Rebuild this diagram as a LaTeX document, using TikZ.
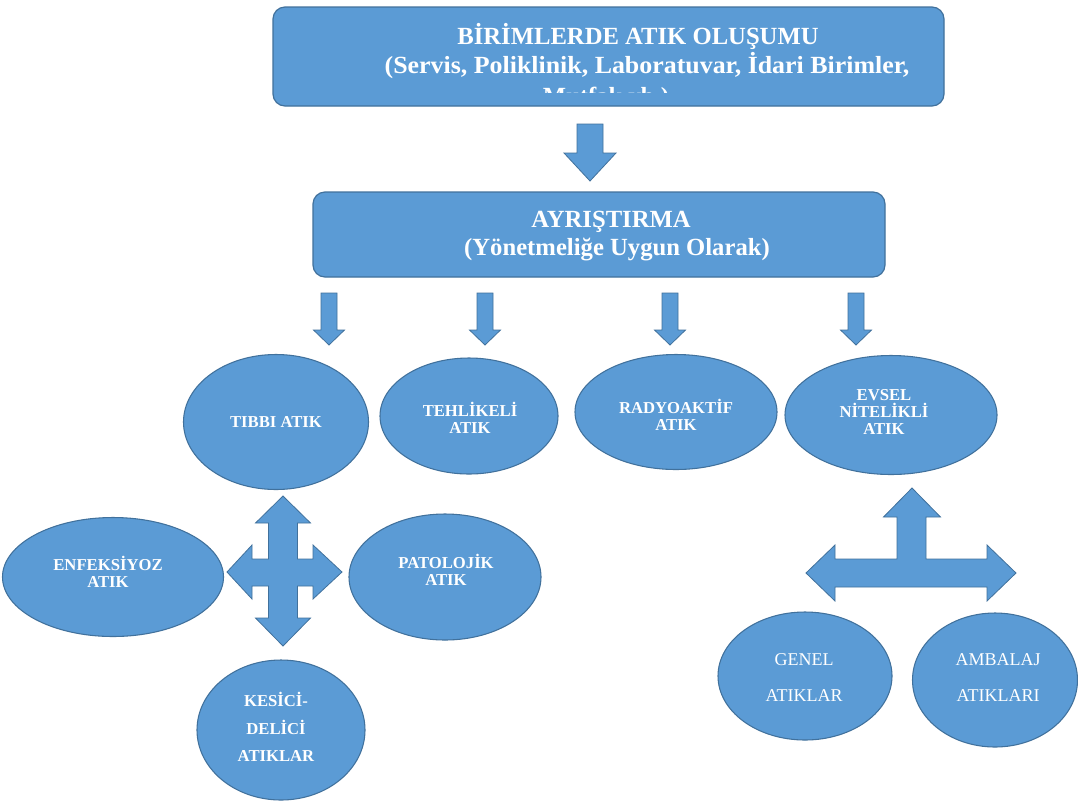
\documentclass[tikz,border=0pt]{standalone}
\usepackage{fontspec}
\usepackage{graphicx}
\setmainfont{Liberation Serif}
\usetikzlibrary{shapes.geometric}
\definecolor{fillb}{HTML}{5B9BD5}
\definecolor{edgeb}{HTML}{41719C}
\begin{document}
\begin{tikzpicture}[x=0.75pt,y=-0.75pt,
  box/.style 2 args={draw=edgeb, fill=fillb, line width=0.9pt, rounded corners=9pt,
     minimum width=#1*0.75pt, minimum height=#2*0.75pt, inner sep=0pt},
  blob/.style 2 args={ellipse, draw=edgeb, fill=fillb, line width=0.8pt, inner sep=0pt,
     minimum width=#1*0.75pt, minimum height=#2*0.75pt},
  barrow/.style={fill=fillb, draw=edgeb, line width=0.6pt, line join=miter},
  btxt/.style={text=white, font=\fontsize{18.5}{21}\selectfont\bfseries, inner sep=0pt, anchor=base},
  etxt/.style={text=white, font=\fontsize{12.5}{13}\selectfont\bfseries, align=center, inner sep=0pt},
  rtxt/.style={text=white, font=\fontsize{13.5}{27}\selectfont, align=center, inner sep=0pt}]
\useasboundingbox (0,0) rectangle (1078,801);
\fill[white] (0,0) rectangle (1078,801);

% top box
\node[box={671}{99}] (top) at (608.5,56.5) {};
\node[btxt] (top1) at (638,44) {BİRİMLERDE ATIK OLUŞUMU};
\node[btxt] (top2) at (647,73) {\scalebox{1.05}[1]{(Servis, Poliklinik, Laboratuvar, İdari Birimler,}};
\begin{scope}
  \clip (274,8) rectangle (943,92);
  \node[btxt] (top3) at (606,104) {Mutfak vb.)};
\end{scope}

% main down arrow
\fill[barrow] (577,124) -- (603,124) -- (603,153) -- (616,153) -- (590,181)
  -- (564,153) -- (577,153) -- cycle;

% second box
\node[box={572}{85}] (ayr) at (599,234.5) {};
\node[btxt] (ayr1) at (611,227) {AYRIŞTIRMA};
\node[btxt] (ayr2) at (617,255) {(Yönetmeliğe Uygun Olarak)};

% small down arrows
\foreach \cx in {329,485,670,856}{
  \fill[barrow] (\cx-8,293) -- (\cx+8,293) -- (\cx+8,330) -- (\cx+15.5,330) -- (\cx,345)
    -- (\cx-15.5,330) -- (\cx-8,330) -- cycle;
}

% main categories
\node[blob={185}{135}] (tibbi) at (276,422) {};
\node[etxt] (tibbiT) at (276,422) {TIBBI ATIK};
\node[blob={178}{116}] (tehl) at (469,416) {};
\node[etxt] (tehlT) at (470,418) {TEHLİKELİ\\ATIK};
\node[blob={202}{115}] (rad) at (676,412) {};
\node[etxt] (radT) at (676,415) {RADYOAKTİF\\ATIK};
\node[blob={212}{119}] (evsel) at (891,415) {};
\node[etxt] (evselT) at (884,412) {EVSEL\\NİTELİKLİ\\ATIK};

% four-way arrow
\fill[barrow] (283,496) -- (310.5,523) -- (297.5,523) -- (297.5,559) -- (313,559)
  -- (313,545) -- (342,572) -- (313,599) -- (313,586) -- (297.5,586) -- (297.5,618)
  -- (310.5,618) -- (283,646) -- (255.5,618) -- (268.5,618) -- (268.5,586) -- (252,586)
  -- (252,599) -- (227,572) -- (252,545) -- (252,559) -- (268.5,559) -- (268.5,523)
  -- (255.5,523) -- cycle;

% tibbi sub-categories
\node[blob={221}{119}] (enf) at (113,577) {};
\node[etxt] (enfT) at (108,572) {ENFEKSİYOZ\\ATIK};
\node[blob={192}{126}] (pat) at (445,577) {};
\node[etxt] (patT) at (446,570) {PATOLOJİK\\ATIK};
\node[blob={168}{140}] (kes) at (281,730) {};
\node[etxt, font=\fontsize{12.5}{20.5}\selectfont\bfseries] (kesT) at (276,727) {KESİCİ-\\DELİCİ\\ATIKLAR};

% T arrow
\fill[barrow] (912,488) -- (940.5,517) -- (926,517) -- (926,559) -- (987,559) -- (987,545)
  -- (1016,573) -- (987,601) -- (987,587) -- (835,587) -- (835,601) -- (806,573)
  -- (835,545) -- (835,559) -- (897,559) -- (897,517) -- (883.5,517) -- cycle;

% evsel sub-categories
\node[blob={174}{128}] (gen) at (805,676) {};
\node[rtxt] (genT) at (804,678) {GENEL\\ATIKLAR};
\node[blob={165}{134}] (amb) at (995,680) {};
\node[rtxt] (ambT) at (998,678) {AMBALAJ\\ATIKLARI};
\end{tikzpicture}
\end{document}
